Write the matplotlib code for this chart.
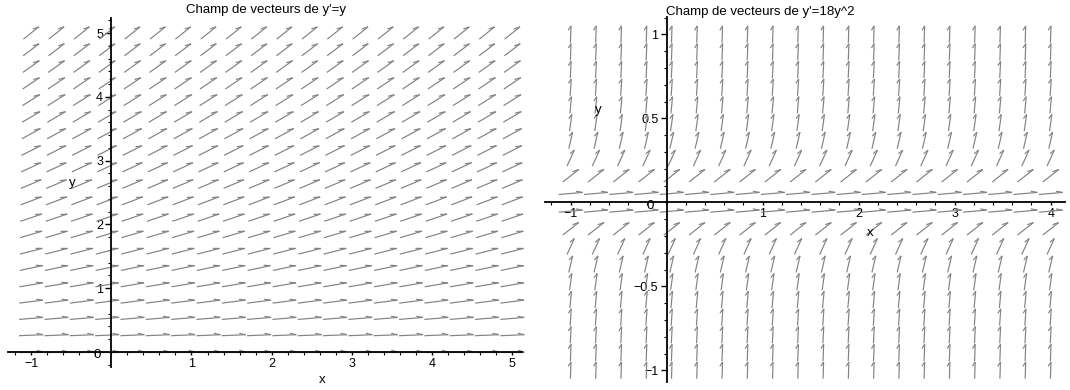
import numpy as np
import matplotlib
matplotlib.use("Agg")
import matplotlib.pyplot as plt
from matplotlib.collections import LineCollection
from matplotlib.ticker import FixedLocator

plt.rcParams['font.family'] = ['Liberation Sans', 'DejaVu Sans']

# ---------------- data ----------------
titles = ["Champ de vecteurs de y'=y", "Champ de vecteurs de y'=18y^2"]
left_x_range = (-1.0, 5.0)
left_y_range = (0.0, 5.0)
right_x_range = (-1.0, 4.0)
right_y_range = (-1.0, 1.0)
grid_n = 20
left_xticks = [-1, 1, 2, 3, 4, 5]
left_yticks = [1, 2, 3, 4, 5]
right_xticks = [-1, 1, 2, 3, 4]
right_yticks = [-1, -0.5, 0.5, 1]
right_yticklabels = ["\u22121", "\u22120.5", "0.5", "1"]


def slope_left(x, y):
    return y          # y' = y


def slope_right(x, y):
    return 18 * y ** 2  # y' = 18 y^2


W, H = 1070, 390
fig = plt.figure(figsize=(W / 100, H / 100), dpi=100)


def axes_from_px(x0px, ux, y0px, uy, xlim, ylim):
    left = x0px + ux * xlim[0]
    right = x0px + ux * xlim[1]
    top = y0px - uy * ylim[1]
    bottom = y0px - uy * ylim[0]
    ax = fig.add_axes([left / W, 1 - bottom / H, (right - left) / W, (bottom - top) / H])
    ax.set_xlim(*xlim)
    ax.set_ylim(*ylim)
    return ax


def draw_field(ax, xr, yr, slope, m, c=0.95, h=0.27, a=np.radians(22)):
    xs = np.linspace(xr[0], xr[1], grid_n)
    ys = np.linspace(yr[0], yr[1], grid_n)
    dx = xs[1] - xs[0]
    dy = ys[1] - ys[0]
    segs = []
    for yv in ys:
        for xv in xs:
            phi = np.arctan(m * slope(xv, yv))
            u = np.array([np.cos(phi), np.sin(phi)])
            n = np.array([-u[1], u[0]])
            tail = -c / 2 * u
            tip = c / 2 * u
            barb = tip + h * (-u * np.cos(a) + n * np.sin(a))
            pts = [np.array([xv + q[0] * dx, yv + q[1] * dy]) for q in (tail, tip, barb)]
            segs.append([pts[0], pts[1]])
            segs.append([pts[1], pts[2]])
    ax.add_collection(LineCollection(segs, colors='#828282', linewidths=0.85))


def style_axes(ax, xb, yb, xticks, yticks, yticklabels=None, xminor=0.2, yminor=0.2):
    for s in ('top', 'right'):
        ax.spines[s].set_visible(False)
    ax.spines['left'].set_position(('data', 0))
    ax.spines['bottom'].set_position(('data', 0))
    ax.spines['left'].set_bounds(*yb)
    ax.spines['bottom'].set_bounds(*xb)
    for s in ('left', 'bottom'):
        ax.spines[s].set_linewidth(1.3)
        ax.spines[s].set_zorder(3)
    ax.patch.set_visible(False)
    ax.set_xticks(xticks)
    ax.set_xticklabels([str(t).replace('-', '\u2212') for t in xticks])
    ax.set_yticks(yticks)
    if yticklabels is None:
        yticklabels = [str(t).replace('-', '\u2212') for t in yticks]
    ax.set_yticklabels(yticklabels)
    xm = [v for v in np.arange(-10, 10, xminor) if xb[0] <= v <= xb[1]]
    ym = [v for v in np.arange(-10, 10, yminor) if yb[0] <= v <= yb[1]]
    ax.xaxis.set_minor_locator(FixedLocator(xm))
    ax.yaxis.set_minor_locator(FixedLocator(ym))
    ax.tick_params(axis='y', which='major', direction='out', length=4.5, width=1, pad=1.5,
                   labelsize=9)
    ax.tick_params(axis='y', which='minor', direction='out', length=2.5, width=0.8)
    ax.tick_params(axis='x', which='major', direction='out', length=2.5, width=1, pad=1.5,
                   labelsize=9)
    ax.tick_params(axis='x', which='minor', direction='out', length=1.8, width=0.8)


# ---------------- left plot ----------------
axL = axes_from_px(111.3, 80.2, 352.0, 63.8, (-1.38, 5.25), (-0.45, 5.45))
draw_field(axL, left_x_range, left_y_range, slope_left, m=0.24)
style_axes(axL, (-1.29, 5.12), (-0.24, 5.23), left_xticks, left_yticks)
axL.text(-0.18, -0.04, "0", ha='center', va='center', fontsize=9.5)
axL.text(-0.49, 2.65, "y", ha='center', va='center', fontsize=9.5)
axL.text(2.63, -0.44, "x", ha='center', va='center', fontsize=9.5)

# ---------------- right plot ----------------
axR = axes_from_px(666.7, 96.0, 202.3, 168.0, (-1.3, 4.2), (-1.12, 1.15))
draw_field(axR, right_x_range, right_y_range, slope_right, m=2.5)
style_axes(axR, (-1.27, 4.15), (-1.07, 1.1), right_xticks, right_yticks,
           right_yticklabels, xminor=0.2, yminor=0.1)
axR.text(-0.17, -0.022, "0", ha='center', va='center', fontsize=9.5)
axR.text(-0.715, 0.55, "y", ha='center', va='center', fontsize=9.5)
axR.text(2.12, -0.18, "x", ha='center', va='center', fontsize=9.5)

fig.text(266 / W, 1 - 10 / H, titles[0], ha='center', va='center', fontsize=9.5)
fig.text(760 / W, 1 - 12 / H, titles[1], ha='center', va='center', fontsize=9.5)

fig.savefig("out.png", dpi=100)
